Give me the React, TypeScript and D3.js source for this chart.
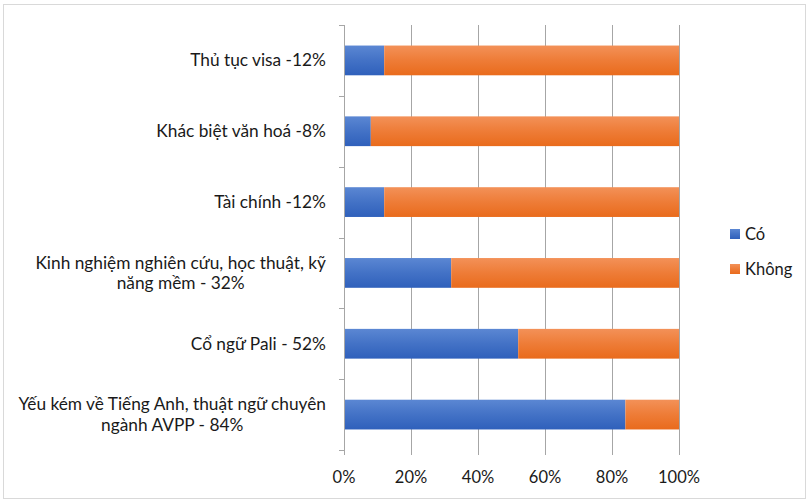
import { useEffect, useRef } from 'react';
import * as d3 from 'd3';

const categories = [
  ['Thủ tục visa -12%'],
  ['Khác biệt văn hoá -8%'],
  ['Tài chính -12%'],
  ['Kinh nghiệm nghiên cứu, học thuật, kỹ', 'năng mềm - 32%'],
  ['Cổ ngữ Pali - 52%'],
  ['Yếu kém về Tiếng Anh, thuật ngữ chuyên', 'ngành AVPP - 84%'],
];
const coValues = [12, 8, 12, 32, 52, 84];
const khongValues = [88, 92, 88, 68, 48, 16];
const seriesNames = ['Có', 'Không'];
const xTicks = [0, 20, 40, 60, 80, 100];

const FONT = 'Lato, "Open Sans", sans-serif';

function App() {
  const svgRef = useRef(null);

  useEffect(() => {
    const svg = d3.select(svgRef.current);
    svg.selectAll('*').remove();

    const defs = svg.append('defs');
    const grads = [
      { id: 'gBlue', top: '#5b87d3', bottom: '#2f60bb' },
      { id: 'gOrange', top: '#f39158', bottom: '#e96b1c' },
    ];
    grads.forEach(g => {
      const lg = defs.append('linearGradient').attr('id', g.id).attr('x1', 0).attr('y1', 0).attr('x2', 0).attr('y2', 1);
      lg.append('stop').attr('offset', '0%').attr('stop-color', g.top);
      lg.append('stop').attr('offset', '50%').attr('stop-color', d3.interpolateRgb(g.top, g.bottom)(0.55));
      lg.append('stop').attr('offset', '100%').attr('stop-color', g.bottom);
    });

    // chart border
    svg.append('rect')
      .attr('x', 3.5).attr('y', 4.5).attr('width', 802).attr('height', 494)
      .attr('fill', 'white').attr('stroke', '#d9d9d9');

    const x = d3.scaleLinear().domain([0, 100]).range([344, 679]);
    const y = d3.scaleBand<number>().domain(d3.range(categories.length)).range([25, 450]).paddingInner(0.58).paddingOuter(0.29);
    const bandEdges = d3.range(categories.length + 1).map(i => 25 + (i * 425) / categories.length);

    // gridlines
    svg.append('g').selectAll('line').data(xTicks.slice(1)).join('line')
      .attr('x1', d => x(d) + 0.5).attr('x2', d => x(d) + 0.5)
      .attr('y1', 25).attr('y2', 455)
      .attr('stroke', '#a6a6a6').attr('stroke-width', 1);

    // bars
    const rows = categories.map((c, i) => ({ i, co: coValues[i], khong: khongValues[i] }));
    const g = svg.append('g');
    g.selectAll('rect.co').data(rows).join('rect').attr('class', 'co')
      .attr('x', x(0)).attr('y', d => y(d.i)!)
      .attr('width', d => x(d.co) - x(0)).attr('height', y.bandwidth())
      .attr('fill', 'url(#gBlue)');
    g.selectAll('rect.kh').data(rows).join('rect').attr('class', 'kh')
      .attr('x', d => x(d.co)).attr('y', d => y(d.i)!)
      .attr('width', d => x(d.co + d.khong) - x(d.co)).attr('height', y.bandwidth())
      .attr('fill', 'url(#gOrange)');

    // vertical axis
    svg.append('line').attr('x1', 344.5).attr('x2', 344.5).attr('y1', 25).attr('y2', 455)
      .attr('stroke', '#a6a6a6');
    svg.append('g').selectAll('line').data(bandEdges).join('line')
      .attr('x1', 339).attr('x2', 344).attr('y1', d => Math.round(d) + 0.5).attr('y2', d => Math.round(d) + 0.5)
      .attr('stroke', '#a6a6a6');
    // bottom tick marks
    svg.append('g').selectAll('line').data(xTicks).join('line')
      .attr('x1', d => x(d) + 0.5).attr('x2', d => x(d) + 0.5).attr('y1', 450).attr('y2', 455)
      .attr('stroke', '#a6a6a6');

    // x tick labels
    svg.append('g').selectAll('text').data(xTicks).join('text')
      .attr('x', d => x(d)).attr('y', 477).attr('dy', '0.35em')
      .attr('text-anchor', 'middle').attr('font-family', FONT).attr('font-size', 16.5).attr('fill', '#1a1a1a')
      .text(d => d + '%');

    // category labels: block right aligned, lines centred
    const labels = svg.append('g');
    categories.forEach((lines, i) => {
      const cy = y(i)! + y.bandwidth() / 2;
      const t = labels.append('text').attr('font-family', FONT).attr('font-size', 17.3).attr('fill', '#1a1a1a')
        .attr('text-anchor', 'middle');
      lines.forEach((ln, k) => {
        t.append('tspan').attr('x', 0).attr('y', cy + (k - (lines.length - 1) / 2) * 20.5).attr('dy', '0.35em').text(ln);
      });
      const w = (t.node() as SVGTextElement).getBBox().width;
      t.attr('transform', `translate(${326 - w / 2},0)`);
    });

    // legend
    const legend = svg.append('g');
    seriesNames.forEach((name, i) => {
      const ly = 234 + i * 35;
      legend.append('rect').attr('x', 730).attr('y', ly - 5).attr('width', 10).attr('height', 10)
        .attr('fill', i === 0 ? 'url(#gBlue)' : 'url(#gOrange)');
      legend.append('text').attr('x', 745).attr('y', ly).attr('dy', '0.35em')
        .attr('font-family', FONT).attr('font-size', 16.5).attr('fill', '#1a1a1a').text(name);
    });
  }, []);

  return (
    <div style={{ position: 'absolute', left: 0, top: 0 }}>
      <svg ref={svgRef} width={807} height={501} />
    </div>
  );
}

export default App;
